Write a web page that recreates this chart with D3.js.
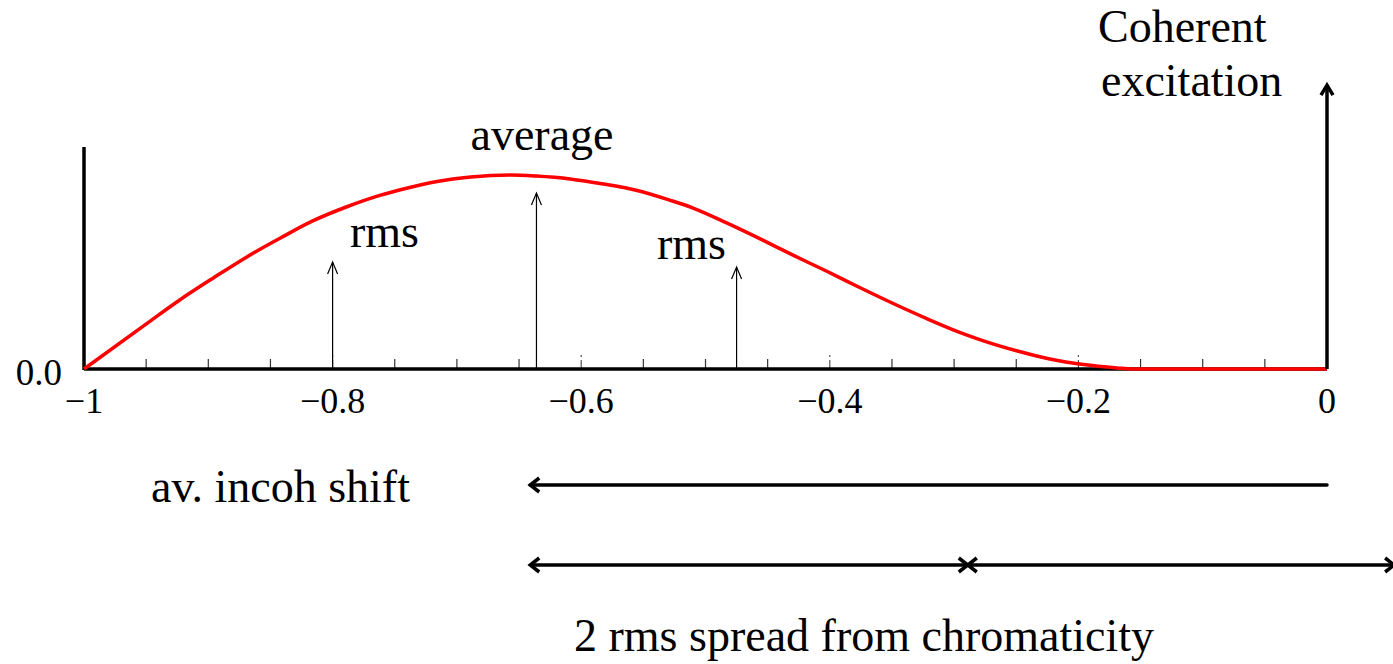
<!DOCTYPE html>
<html>
<head>
<meta charset="utf-8">
<script src="https://cdn.jsdelivr.net/npm/d3@7"></script>
<style>
  html, body { margin: 0; padding: 0; background: #fff; overflow: hidden; }
  text { font-family: "Liberation Serif", "Times New Roman", serif; fill: #000; }
</style>
</head>
<body>
<div id="chart"></div>
<script>
// tune shift distribution
const curveX = [-1.000, -0.949, -0.923, -0.896, -0.869, -0.842, -0.816, -0.788, -0.762, -0.743,
                -0.716, -0.689, -0.657, -0.636, -0.609, -0.582, -0.555, -0.529, -0.510, -0.483,
                -0.456, -0.430, -0.402, -0.376, -0.349, -0.322, -0.295, -0.277, -0.249, -0.223,
                -0.196, -0.169, -0.156, 0.000];
const curveY = [0.000, 0.207, 0.311, 0.410, 0.505, 0.590, 0.667, 0.732, 0.782, 0.811,
                0.845, 0.865, 0.874, 0.869, 0.856, 0.833, 0.804, 0.761, 0.725, 0.658,
                0.586, 0.514, 0.439, 0.367, 0.295, 0.227, 0.164, 0.128, 0.081, 0.045,
                0.020, 0.005, 0.000, 0.000];

const majorTicks = [-1, -0.8, -0.6, -0.4, -0.2, 0];
const tickLabels = ["\u22121", "\u22120.8", "\u22120.6", "\u22120.4", "\u22120.2", "0"];
const minorTicks = [-0.95, -0.9, -0.85, -0.75, -0.7, -0.65, -0.55, -0.5, -0.45,
                    -0.35, -0.3, -0.25, -0.15, -0.1, -0.05];

// thin arrows: rms, average, rms
const markX = [-0.8, -0.636, -0.475];
const markH = [0.482, 0.793, 0.459];
const markLabels = ["rms", "average", "rms"];

const coherentX = 0;
const coherentH = 1.279;
const avShift = -0.641;
const spreadBounds = [-0.641, -0.289, 0.054];

const W = 1393, H = 664;
const x = d3.scaleLinear().domain([-1, 0]).range([84, 1327]);
const y = d3.scaleLinear().domain([0, 1]).range([369, 147]);

const svg = d3.select("#chart").append("svg")
    .attr("width", W).attr("height", H);

// open "V" arrow head, dir = angle the arrow points to
function head(px, py, dir, len, half) {
    const bx = px - len * Math.cos(dir), by = py - len * Math.sin(dir);
    const nx = -Math.sin(dir) * half, ny = Math.cos(dir) * half;
    return `M${bx + nx},${by + ny}L${px},${py}L${bx - nx},${by - ny}`;
}

// ticks
svg.append("g").selectAll("line").data(minorTicks).enter().append("line")
    .attr("x1", d => x(d)).attr("x2", d => x(d))
    .attr("y1", y(0)).attr("y2", y(0) - 10)
    .attr("stroke", "#333").attr("stroke-width", 1.2);
svg.append("g").selectAll("line").data(majorTicks.slice(1, -1)).enter().append("line")
    .attr("x1", d => x(d)).attr("x2", d => x(d))
    .attr("y1", y(0)).attr("y2", y(0) - 17)
    .attr("stroke", "#555").attr("stroke-width", 1.2)
    .attr("stroke-dasharray", "9,3,2");

// axes
svg.append("line")
    .attr("x1", x(-1)).attr("x2", x(0)).attr("y1", y(0)).attr("y2", y(0))
    .attr("stroke", "#000").attr("stroke-width", 3.5);
svg.append("line")
    .attr("x1", x(-1)).attr("x2", x(-1)).attr("y1", y(0) + 1).attr("y2", y(1))
    .attr("stroke", "#000").attr("stroke-width", 3.5);

svg.append("g").selectAll("text").data(majorTicks).enter().append("text")
    .attr("x", d => x(d)).attr("y", 413)
    .attr("text-anchor", "middle").attr("font-size", 36)
    .text((d, i) => tickLabels[i]);
svg.append("text").attr("x", 62).attr("y", 385)
    .attr("text-anchor", "end").attr("font-size", 37).text("0.0");

// distribution curve
const pts = curveX.map((d, i) => [d, curveY[i]]);
svg.append("path").datum(pts)
    .attr("d", d3.line().x(d => x(d[0])).y(d => y(d[1])).curve(d3.curveMonotoneX))
    .attr("fill", "none").attr("stroke", "#ff0000").attr("stroke-width", 3.5);

// thin arrows
const marks = svg.append("g");
markX.forEach((mx, i) => {
    marks.append("line")
        .attr("x1", x(mx)).attr("x2", x(mx)).attr("y1", y(0)).attr("y2", y(markH[i]))
        .attr("stroke", "#000").attr("stroke-width", 1.2);
    marks.append("path").attr("d", head(x(mx), y(markH[i]), -Math.PI / 2, 12, 5))
        .attr("fill", "none").attr("stroke", "#000").attr("stroke-width", 1.2);
});
svg.append("text").attr("x", 350).attr("y", 247).attr("font-size", 46).text(markLabels[0]);
svg.append("text").attr("x", 542).attr("y", 150).attr("text-anchor", "middle")
    .attr("font-size", 46).text(markLabels[1]);
svg.append("text").attr("x", 657).attr("y", 259).attr("font-size", 46).text(markLabels[2]);

// coherent excitation
svg.append("line")
    .attr("x1", x(coherentX)).attr("x2", x(coherentX))
    .attr("y1", y(0)).attr("y2", y(coherentH))
    .attr("stroke", "#000").attr("stroke-width", 3.5);
svg.append("path").attr("d", head(x(coherentX), y(coherentH), -Math.PI / 2, 10, 6))
    .attr("fill", "none").attr("stroke", "#000").attr("stroke-width", 3.5);
svg.append("text").attr("x", 1098).attr("y", 42).attr("font-size", 46).text("Coherent");
svg.append("text").attr("x", 1101).attr("y", 96).attr("font-size", 46).text("excitation");

// average incoherent shift
const yShift = 485, ySpread = 565;
svg.append("line")
    .attr("x1", x(0)).attr("x2", x(avShift)).attr("y1", yShift).attr("y2", yShift)
    .attr("stroke", "#000").attr("stroke-width", 3.5).attr("stroke-linecap", "round");
svg.append("path").attr("d", head(x(avShift), yShift, Math.PI, 9, 7))
    .attr("fill", "none").attr("stroke", "#000").attr("stroke-width", 3.5);
svg.append("text").attr("x", 151).attr("y", 502).attr("font-size", 46).text("av. incoh shift");

// 2 rms spread
d3.pairs(spreadBounds).forEach(([a, b]) => {
    svg.append("line")
        .attr("x1", x(a)).attr("x2", x(b)).attr("y1", ySpread).attr("y2", ySpread)
        .attr("stroke", "#000").attr("stroke-width", 3.5);
    svg.append("path").attr("d", head(x(a), ySpread, Math.PI, 9, 7))
        .attr("fill", "none").attr("stroke", "#000").attr("stroke-width", 3.5);
    svg.append("path").attr("d", head(x(b), ySpread, 0, 9, 7))
        .attr("fill", "none").attr("stroke", "#000").attr("stroke-width", 3.5);
});
svg.append("text").attr("x", 864).attr("y", 651).attr("text-anchor", "middle")
    .attr("font-size", 46).text("2 rms spread from chromaticity");
</script>
</body>
</html>
